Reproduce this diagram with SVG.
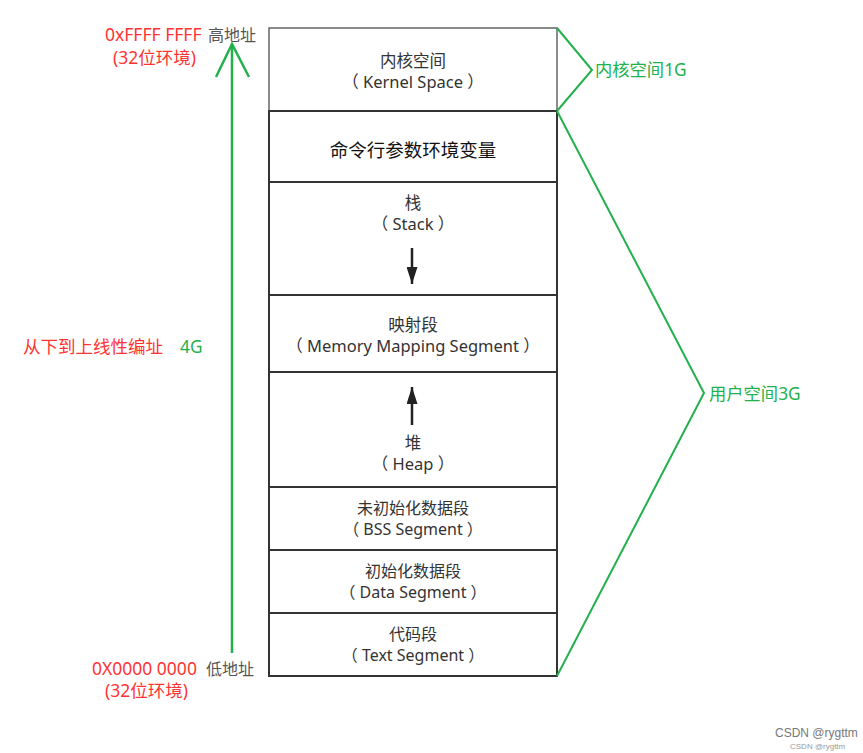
<svg xmlns="http://www.w3.org/2000/svg" width="863" height="753" viewBox="0 0 863 753">
<style>
.seg{fill:#fff;stroke:#333;stroke-width:2}
.t{font-family:"Noto Sans","Noto Sans CJK SC",sans-serif;font-size:16.5px;fill:#333;text-anchor:middle}
.s{font-size:16px}
.red{font-family:"Noto Sans","Noto Sans CJK SC",sans-serif;font-size:17.5px;fill:#ff3333}
.grn{font-family:"Noto Sans","Noto Sans CJK SC",sans-serif;font-size:17.3px;fill:#22b14c}
.gray{font-family:"Noto Sans","Noto Sans CJK SC",sans-serif;font-size:16px;fill:#555}
.br{fill:none;stroke:#22b14c;stroke-width:2}
</style>
<defs>
<marker id="ah" viewBox="0 0 17 11" refX="17" refY="5.5" markerWidth="17" markerHeight="11" orient="auto" markerUnits="userSpaceOnUse">
<path d="M0,0 L17,5.5 L0,11 z" fill="#222"/>
</marker>
</defs>
<rect width="863" height="753" fill="#fff"/>
<g id="kernel"><rect x="269" y="28" width="288" height="83" fill="#fff" stroke="#666" stroke-width="1.5"/>
<text class="t" x="413" y="67">内核空间</text><text class="t" x="413" y="88">（ Kernel Space ）</text></g>
<g id="args"><rect class="seg" x="269" y="111" width="288" height="71" stroke="#111"/>
<text class="t" x="413" y="157" style="font-size:18.5px;fill:#111">命令行参数环境变量</text></g>
<g id="stack"><rect class="seg" x="269" y="182" width="288" height="113"/>
<text class="t" x="413" y="209">栈</text><text class="t" x="413" y="230">（ Stack ）</text></g>
<g id="mmap"><rect class="seg" x="269" y="295" width="288" height="77"/>
<text class="t" x="413" y="331">映射段</text><text class="t" x="413" y="352">（ Memory Mapping Segment ）</text></g>
<g id="heap"><rect class="seg" x="269" y="372" width="288" height="115"/>
<text class="t" x="413" y="449">堆</text><text class="t" x="413" y="470">（ Heap ）</text></g>
<g id="bss"><rect class="seg" x="269" y="487" width="288" height="63"/>
<text class="t s" x="413" y="514">未初始化数据段</text><text class="t s" x="413" y="535">（ BSS Segment ）</text></g>
<g id="data"><rect class="seg" x="269" y="550" width="288" height="63"/>
<text class="t s" x="413" y="577">初始化数据段</text><text class="t s" x="413" y="598">（ Data Segment ）</text></g>
<g id="text"><rect class="seg" x="269" y="613" width="288" height="63"/>
<text class="t s" x="413" y="640">代码段</text><text class="t s" x="413" y="661">（ Text Segment ）</text></g>
<g id="connectors">
<line x1="412" y1="248" x2="412" y2="284" stroke="#222" stroke-width="2.5" marker-end="url(#ah)"/>
<line x1="412" y1="425" x2="412" y2="387" stroke="#222" stroke-width="2.5" marker-end="url(#ah)"/>
<line x1="232" y1="653" x2="232" y2="44" stroke="#22b14c" stroke-width="2.5"/>
<polyline points="216,77 232,44 249,77" fill="none" stroke="#22b14c" stroke-width="2.5"/>
<polyline class="br" points="557,28 592,70 557,111"/>
<polyline class="br" points="557,111 704,393 557,676"/>
</g>
<g id="labels">
<text class="red" x="105" y="41">0xFFFF FFFF</text>
<text class="gray" x="208" y="41">高地址</text>
<text class="red" x="113" y="64">(32位环境)</text>
<text class="red" x="23" y="353">从下到上线性编址</text>
<text class="grn" x="180" y="353">4G</text>
<text class="red" x="92" y="675">0X0000 0000</text>
<text class="gray" x="206" y="675">低地址</text>
<text class="red" x="105" y="697">(32位环境)</text>
<text class="grn" x="595" y="76">内核空间1G</text>
<text class="grn" x="709" y="400">用户空间3G</text>
<text x="775" y="737" style="font-family:'Liberation Sans',sans-serif;font-size:12px;fill:#777">CSDN @rygttm</text>
<text x="790" y="749" style="font-family:'Liberation Sans',sans-serif;font-size:8px;fill:#999">CSDN @rygttm</text>
</g>
</svg>
